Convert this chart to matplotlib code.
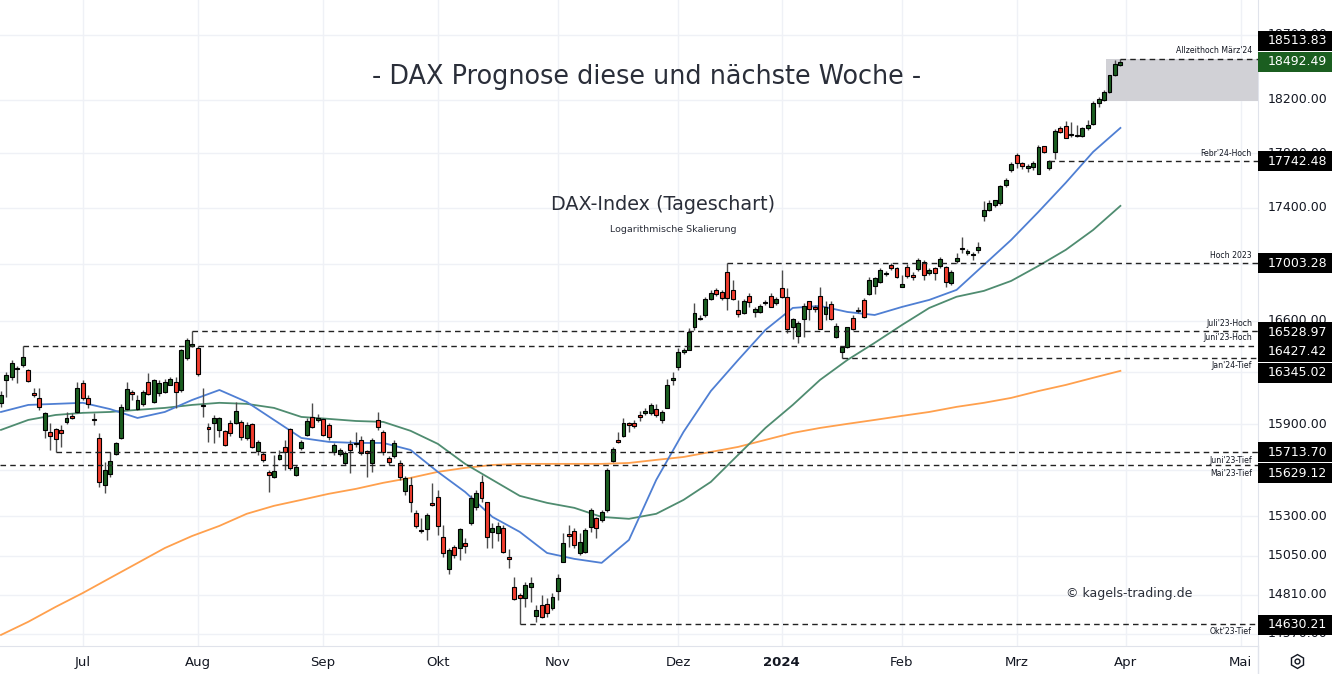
import numpy as np
import matplotlib
matplotlib.use('Agg')
import matplotlib.pyplot as plt
from matplotlib.patches import Rectangle
from matplotlib.lines import Line2D

# DAX Tageskerzen (Jun 2023 - Mrz 2024), eine Kerze pro Handelstag
eroeffnung = [16041, 16197, 16217, 16271, 16298, 16264, 16108, 16075, 15862, 15849,
              15869, 15862, 15915, 15955, 15981, 16176, 16075, 15935, 15810, 15503,
              15574, 15704, 15810, 16002, 16115, 16002, 16035, 16183, 16048, 16108,
              16115, 16163, 16183, 16129, 16345, 16427, 16414, 16028, 15882, 15909,
              15862, 15856, 15909, 15909, 15915, 15810, 15902, 15724, 15704, 15587,
              15555, 15672, 15750, 15869, 15568, 15743, 15829, 15948, 15928, 15935,
              15896, 15717, 15704, 15646, 15770, 15770, 15796, 15720, 15646, 15928,
              15849, 15678, 15691, 15646, 15464, 15503, 15323, 15215, 15221, 15387,
              15426, 15170, 14969, 15107, 15100, 15132, 15260, 15361, 15523, 15393,
              15202, 15196, 15227, 15044, 14858, 14808, 14789, 14858, 14680, 14747,
              14753, 14728, 14833, 15013, 15189, 15208, 15069, 15076, 15234, 15291,
              15278, 15342, 15659, 15796, 15823, 15909, 15909, 15961, 15975, 15975,
              16002, 15928, 16008, 16197, 16285, 16386, 16400, 16559, 16614, 16641,
              16752, 16815, 16801, 16942, 16815, 16676, 16655, 16773, 16662, 16662,
              16724, 16773, 16724, 16829, 16766, 16559, 16497, 16614, 16738, 16697,
              16773, 16648, 16717, 16490, 16386, 16421, 16621, 16669, 16745, 16787,
              16843, 16871, 16928, 16991, 16970, 16836, 16977, 16921, 16963, 17013,
              16935, 16970, 16984, 16977, 16864, 17020, 17105, 17076, 17062, 17097,
              17339, 17382, 17418, 17436, 17568, 17678, 17787, 17729, 17692, 17700,
              17648, 17855, 17692, 17810, 17990, 18005, 17937, 17930, 17930, 17990,
              18020, 18177, 18200, 18261, 18392, 18469]
hoch = [16122, 16251, 16332, 16292, 16427, 16270, 16142, 16142, 15981, 15909,
        15875, 15896, 15981, 15975, 16183, 16197, 16095, 15975, 15843, 15652,
        15717, 15783, 16035, 16183, 16128, 16095, 16128, 16244, 16203, 16197,
        16203, 16217, 16217, 16405, 16483, 16529, 16428, 16142, 15909, 15961,
        15948, 15862, 15928, 16048, 15928, 15915, 15909, 15796, 15717, 15600,
        15698, 15730, 15796, 15875, 15633, 15796, 15942, 16041, 15968, 15942,
        15909, 15776, 15743, 15724, 15796, 15849, 15823, 15730, 15810, 15981,
        15862, 15691, 15796, 15665, 15561, 15555, 15342, 15291, 15323, 15516,
        15471, 15246, 15100, 15119, 15227, 15164, 15438, 15471, 15568, 15393,
        15259, 15266, 15246, 15094, 14920, 14820, 14889, 14920, 14747, 14808,
        14789, 14820, 14938, 15196, 15246, 15227, 15196, 15227, 15355, 15297,
        15342, 15613, 15750, 15849, 15942, 15915, 15928, 15988, 16008, 16041,
        16035, 15995, 16203, 16251, 16414, 16414, 16552, 16724, 16641, 16766,
        16815, 16829, 16815, 17003, 16885, 16745, 16752, 16794, 16697, 16717,
        16745, 16794, 16766, 16956, 16829, 16621, 16600, 16724, 16738, 16710,
        16835, 16738, 16738, 16586, 16428, 16559, 16641, 16697, 16759, 16906,
        16906, 16970, 16949, 17005, 16977, 16921, 16998, 16942, 17041, 17027,
        16970, 16977, 17048, 16984, 16956, 17076, 17191, 17105, 17083, 17155,
        17447, 17454, 17457, 17568, 17619, 17737, 17802, 17737, 17722, 17744,
        17862, 17855, 17751, 17982, 18005, 18042, 18035, 18012, 17997, 18050,
        18192, 18223, 18277, 18392, 18506, 18513.83]
tief = [16015, 16081, 16197, 16176, 16285, 16180, 16081, 15995, 15810, 15730,
        15713.70, 15750, 15902, 15935, 15975, 16061, 16008, 15896, 15490, 15451,
        15555, 15698, 15803, 15995, 16061, 15995, 16022, 16095, 16041, 16088,
        16108, 16160, 16008, 16115, 16332, 16420, 16224, 15948, 15783, 15776,
        15816, 15757, 15823, 15902, 15796, 15796, 15743, 15698, 15652, 15458,
        15548, 15665, 15600, 15600, 15561, 15730, 15823, 15875, 15915, 15823,
        15796, 15698, 15691, 15633, 15581, 15750, 15698, 15555, 15587, 15862,
        15698, 15633, 15678, 15535, 15438, 15329, 15227, 15196, 15151, 15368,
        15183, 15044, 14938, 15038, 15026, 15069, 15246, 15342, 15393, 15100,
        15100, 15145, 15069, 14976, 14777, 14630.21, 14734, 14765, 14643, 14667,
        14673, 14716, 14777, 15013, 15107, 15100, 15057, 15069, 15202, 15164,
        15266, 15329, 15652, 15776, 15816, 15849, 15875, 15922, 15961, 15961,
        15948, 15909, 16008, 16162, 16264, 16373, 16400, 16538, 16607, 16628,
        16745, 16773, 16745, 16676, 16745, 16628, 16648, 16697, 16628, 16655,
        16710, 16697, 16710, 16759, 16517, 16476, 16448, 16490, 16607, 16662,
        16545, 16607, 16607, 16483, 16345.02, 16414, 16538, 16655, 16621, 16780,
        16787, 16864, 16914, 16956, 16899, 16836, 16899, 16885, 16949, 16885,
        16921, 16885, 16970, 16836, 16850, 17005, 17076, 17062, 17027, 17076,
        17302, 17375, 17403, 17421, 17553, 17663, 17692, 17685, 17663, 17678,
        17648, 17802, 17678, 17758, 17952, 17915, 17922, 17922, 17922, 17975,
        18012, 18147, 18192, 18254, 18384, 18460]
schluss = [16095, 16231, 16312, 16278, 16353, 16190, 16095, 16015, 15975, 15823,
           15803, 15843, 15942, 15942, 16142, 16075, 16035, 15928, 15523, 15600,
           15659, 15776, 16015, 16136, 16102, 16061, 16115, 16102, 16197, 16176,
           16183, 16203, 16115, 16400, 16469, 16441, 16237, 16021, 15869, 15942,
           15942, 15763, 15843, 15988, 15816, 15896, 15750, 15783, 15665, 15568,
           15594, 15698, 15717, 15613, 15620, 15783, 15922, 15882, 15942, 15829,
           15816, 15763, 15730, 15711, 15730, 15776, 15711, 15711, 15796, 15882,
           15717, 15652, 15776, 15555, 15548, 15393, 15240, 15208, 15310, 15374,
           15240, 15069, 15088, 15057, 15221, 15113, 15419, 15451, 15419, 15170,
           15227, 15240, 15076, 15032, 14783, 14789, 14870, 14883, 14716, 14673,
           14698, 14796, 14914, 15132, 15177, 15119, 15138, 15215, 15342, 15227,
           15329, 15600, 15737, 15783, 15909, 15896, 15889, 15948, 15988, 16028,
           15961, 15981, 16162, 16210, 16386, 16400, 16524, 16655, 16621, 16752,
           16794, 16787, 16759, 16759, 16752, 16648, 16738, 16731, 16683, 16703,
           16731, 16697, 16752, 16766, 16545, 16614, 16586, 16703, 16683, 16683,
           16545, 16697, 16614, 16566, 16421, 16559, 16545, 16676, 16628, 16885,
           16899, 16956, 16935, 16970, 16907, 16857, 16914, 16907, 17027, 16921,
           16956, 16935, 17034, 16871, 16942, 17041, 17112, 17090, 17069, 17119,
           17382, 17432, 17454, 17560, 17604, 17722, 17729, 17707, 17707, 17729,
           17847, 17810, 17744, 17967, 17960, 17915, 17940, 17937, 17990, 18012,
           18177, 18208, 18261, 18392, 18476, 18492.49]

sma20 = [15981, 16028, 16035, 16042, 16000, 15941, 15981, 16061, 16128, 16048,
         15928, 15809, 15783, 15776, 15776, 15730, 15587, 15457, 15297, 15202,
         15069, 15032, 15007, 15151, 15535, 15849, 16121, 16331, 16537, 16689,
         16703, 16661, 16640, 16696, 16745, 16815, 16991, 17169, 17371, 17583,
         17810, 17989]
sma50 = [15862, 15928, 15961, 15975, 15981, 15995, 16008, 16028, 16042, 16035,
         16008, 15948, 15935, 15921, 15915, 15856, 15770, 15639, 15535, 15432,
         15387, 15355, 15297, 15285, 15317, 15406, 15522, 15698, 15875, 16028,
         16196, 16331, 16448, 16571, 16689, 16767, 16808, 16878, 16984, 17098,
         17240, 17414]
sma200 = [14563, 14643, 14734, 14820, 14913, 15006, 15100, 15176, 15240, 15317,
          15368, 15406, 15445, 15477, 15516, 15548, 15587, 15613, 15632, 15639,
          15639, 15639, 15639, 15645, 15665, 15684, 15717, 15750, 15796, 15842,
          15875, 15902, 15928, 15955, 15981, 16015, 16042, 16075, 16121, 16162,
          16210, 16257]

# Monatsbeschriftung: Kerzennummer des ersten Handelstags
monate = ['Jul', 'Aug', 'Sep', 'Okt', 'Nov', 'Dez', '2024', 'Feb', 'Mrz', 'Apr', 'Mai']
monat_kerze = [15, 36, 59, 80, 102, 124, 143, 165, 186, 206, 227]

preis_gitter = [14570, 14810, 15050, 15300, 15600, 15900, 16250, 16600,
                17000, 17400, 17800, 18200, 18700]
# beschriftete Werte (die übrigen liegen ganz unter den Preisboxen)
preis_ticks = [14570, 14810, 15050, 15300, 15900, 16600, 17400, 17800, 18200, 18700]

# Marken (Hochs/Tiefs)
marken_wert = [18513.83, 17742.48, 17003.28, 16528.97, 16427.42, 16345.02,
               15713.70, 15629.12, 14630.21]
marken_name = ["Allzeithoch März'24", "Febr'24-Hoch", "Hoch 2023", "Juli'23-Hoch",
               "Juni'23-Hoch", "Jan'24-Tief", "Juni'23-Tief", "Mai'23-Tief", "Okt'23-Tief"]
marken_kerze = [205, 192, 133, 35, 4, 154, 10, None, 95]

zone = [18190, 18513.83]   # grauer Bereich oben rechts

# ---------------------------------------------------------------
W, H = 1332, 674
fig = plt.figure(figsize=(W / 100, H / 100), dpi=100)
fig.patch.set_facecolor('white')
unten_px = 28
ax = fig.add_axes([0, unten_px / H, 1258 / W, 646 / H])
ymin, ymax = 14496, 18974
xmin, xmax = -0.18, 230.2
ax.set_yscale('log')
ax.set_ylim(ymin, ymax)
ax.set_xlim(xmin, xmax)

gitter = '#eff1f6'
for v in preis_gitter:
    ax.axhline(v, color=gitter, lw=1, zorder=0)
for m in monat_kerze:
    ax.axvline(m, color=gitter, lw=1, zorder=0)

# graue Zone
ax.add_patch(Rectangle((202.4, zone[0]), xmax - 202.4, zone[1] - zone[0],
                       facecolor='#d1d1d6', edgecolor='none', zorder=1))

# Linien der Durchschnitte
xm = np.arange(0, len(schluss), 5)
ax.plot(xm, sma200, color='#ffa04d', lw=1.3, zorder=2)
ax.plot(xm, sma50, color='#4f8c70', lw=1.3, zorder=2)
ax.plot(xm, sma20, color='#4f7fd3', lw=1.3, zorder=2)

# Kerzen
x = np.arange(len(schluss))
o = np.array(eroeffnung, dtype=float)
c = np.array(schluss, dtype=float)
farben = np.where(c >= o, '#1b5e20', '#f23d2e')
ax.vlines(x, tief, hoch, color='#4d4d4d', lw=1, zorder=3)
body_u = np.minimum(o, c)
body_o = np.maximum(o, c)
ax.bar(x, body_o - body_u, bottom=body_u, width=0.72, color=farben,
       edgecolor='black', linewidth=0.8, zorder=4)

# gestrichelte Marken
for wert, name, k in zip(marken_wert, marken_name, marken_kerze):
    start = xmin if k is None else k
    ax.hlines(wert, start, xmax, colors='#222222', lw=1, linestyles=(0, (4, 3)), zorder=5)
    dy = 8 if 'Tief' not in name else -8
    ax.annotate(name, xy=(229.1, wert), xytext=(0, dy), textcoords='offset pixels',
                ha='right', va='center', fontsize=5.6, color='#131722', zorder=6)

# Achsen
for s in ['top', 'left']:
    ax.spines[s].set_visible(False)
ax.spines['bottom'].set_color('#e0e3eb')
ax.spines['right'].set_color('#e0e3eb')
ax.yaxis.set_major_locator(matplotlib.ticker.NullLocator())
ax.yaxis.set_minor_locator(matplotlib.ticker.NullLocator())
ax.set_xticks(monat_kerze)
ax.set_xticklabels(monate, fontsize=9.5, color='#131722')
ax.tick_params(axis='x', length=0, pad=7)
for lab in ax.get_xticklabels():
    if lab.get_text() == '2024':
        lab.set_fontweight('bold')

# Preisskala rechts
axr = fig.add_axes([1258 / W, unten_px / H, 74 / W, 646 / H])
axr.set_yscale('log')
axr.set_ylim(ymin, ymax)
axr.set_xlim(0, 1)
axr.axis('off')
k_px = 646 / np.log(ymax / ymin)   # Pixel pro ln-Einheit

for v in preis_ticks:
    axr.text(0.13, v, f'{v:.2f}', va='center', ha='left', fontsize=9,
             color='#131722', zorder=1)

def preis_box(wert, dy, farbe):
    yc = wert * np.exp(-dy / k_px)
    y0 = yc * np.exp(-10 / k_px)
    y1 = yc * np.exp(10 / k_px)
    axr.add_patch(Rectangle((0, y0), 1, y1 - y0, facecolor=farbe,
                            edgecolor='none', zorder=3, clip_on=False))
    axr.text(0.13, yc, f'{wert:.2f}', va='center', ha='left', fontsize=9,
             color='white', zorder=4)

box_versatz = [-18, 0, 0, 1, 6, 15, 0, 8, 1]
for wert, dy in zip(marken_wert, box_versatz):
    preis_box(wert, dy, 'black')
preis_box(schluss[-1], 0, '#1b5e20')

# Trennlinie unter der Preisskala
fig.add_artist(Line2D([1258 / W, 1258 / W], [0, unten_px / H], color='#e0e3eb',
                      lw=1, transform=fig.transFigure))
# Zahnrad-Symbol
fig.add_artist(Line2D([1297 / W], [1 - 661 / H], marker='h', markersize=10,
                      mfc='none', mec='#131722', mew=1, transform=fig.transFigure))
fig.add_artist(Line2D([1297 / W], [1 - 661 / H], marker='o', markersize=3.5,
                      mfc='none', mec='#131722', mew=1, transform=fig.transFigure))

# Texte
fig.text(647 / W, 1 - 77 / H, '- DAX Prognose diese und nächste Woche -', ha='center',
         va='center', fontsize=18.4, color='#2a2e39')
fig.text(663 / W, 1 - 205 / H, 'DAX-Index (Tageschart)', ha='center', va='center',
         fontsize=13.8, color='#2a2e39')
fig.text(673 / W, 1 - 229 / H, 'Logarithmische Skalierung', ha='center', va='center',
         fontsize=6.8, color='#2a2e39')
fig.text(1129 / W, 1 - 593 / H, '© kagels-trading.de', ha='center', va='center',
         fontsize=9, color='#2a2e39')

fig.savefig('out.png', dpi=100)
